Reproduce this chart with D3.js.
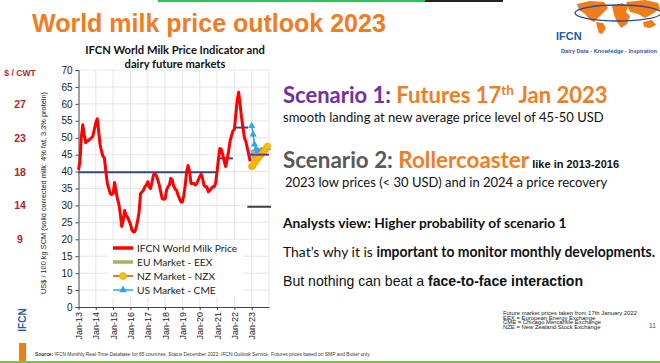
<!DOCTYPE html>
<html>
<head>
<meta charset="utf-8">
<script src="https://cdn.jsdelivr.net/npm/d3@7"></script>
<style>
  body { margin: 0; background: #fff; }
  svg { display: block; }
</style>
</head>
<body>
<svg></svg>
<script>
const width = 660;
const height = 363;

// monthly IFCN world milk price, Jan-13 .. Dec-22 (US$ / 100 kg SCM)
const price2013 = [40.5, 43, 50, 53.8, 51, 48.5, 49, 49.2, 49.6, 50, 50.5, 52.5];
const price2014 = [54.5, 55.6, 52, 48, 46, 44.5, 44, 40, 36.5, 35, 33.5, 33.2];
const price2015 = [33.5, 36.8, 34.5, 32, 30.5, 27.5, 23.8, 25.5, 28.5, 27, 26.5, 25.5];
const price2016 = [24.5, 22.8, 22.2, 22.2, 23.5, 25.5, 28, 33.5, 34, 34.5, 35.5, 36];
const price2017 = [37, 35.5, 35, 37, 39, 39.4, 38.8, 37.5, 36, 34, 32, 31.8];
const price2018 = [32, 34.5, 35.5, 36, 38, 37.5, 35.8, 34.8, 34.5, 33, 32, 31];
const price2019 = [31, 33, 36, 40, 41.8, 40, 36.5, 36.5, 36.5, 36, 36.5, 37.5];
const price2020 = [38.5, 39.2, 38, 36, 35.5, 35.5, 34, 34.5, 35, 35.5, 35.5, 36.5];
const price2021 = [40, 44, 46.8, 46.5, 45, 43, 41.5, 43.5, 46, 49, 50.5, 52];
const price2022 = [52.5, 57, 61, 63.4, 60, 56, 53, 50, 48.8, 47, 45, 43];

// futures for Jan-23 .. Dec-23
const eex = [46.5, 44.5, 43.5, 43.5, 44, 44.5, 45, 45.5, 46, 46.5, 47, 47];
const nzx = [41.5, 41.8, 42.5, 43.2, 43.8, 44.2, 44.8, 45.3, 45.8, 46.3, 46.8, 47.5];
const cme = [53.5, 51, 48, 46.5, 46, 46, 46, 46.1, 46.3, 46.5, 46.8, 47];

// period averages [start, end, value]
const averages = [
  ["2013-01-01", "2021-01-01", 39.8],
  ["2021-01-01", "2021-12-01", 43.9],
  ["2022-01-01", "2022-10-15", 53],
];
const scenario1 = ["2022-10-01", "2024-01-01", 45];
const scenario2 = ["2022-10-01", "2024-02-15", 29.6];

const yTicks = d3.range(0, 71, 5);
const xTickYears = d3.range(2013, 2024);
const cwtLabels = [[60, "27"], [50, "23"], [40, "18"], [30, "14"], [20, "9"]];

const legendItems = [
  { name: "IFCN World Milk Price", color: "#ff0000", w: 3.5, marker: null },
  { name: "EU Market - EEX", color: "#9bbb59", w: 3.5, marker: null },
  { name: "NZ Market - NZX", color: "#c55a11", w: 1.5, marker: "circle" },
  { name: "US Market - CME", color: "#2fa6e6", w: 1.5, marker: "triangle" },
];

const parse = d3.timeParse("%Y-%m-%d");
const start = parse("2013-01-01");
const priceSeries = [].concat(price2013, price2014, price2015, price2016, price2017,
  price2018, price2019, price2020, price2021, price2022)
  .map((v, i) => ({ date: d3.timeMonth.offset(start, i), v: v }));
const fut = arr => arr.map((v, i) => ({ date: d3.timeMonth.offset(parse("2023-01-01"), i), v: v }));

let svg = d3.select("svg")
  .attr("width", width)
  .attr("height", height);

// top progress strip
svg.append("rect").attr("x", 158).attr("y", 0).attr("width", 267).attr("height", 2).attr("fill", "#22c55e");
svg.append("rect").attr("x", 425).attr("y", 0).attr("width", 78).attr("height", 2).attr("fill", "#222");

// title
svg.append("text")
  .attr("x", 32).attr("y", 32)
  .attr("font-family", "Liberation Sans, Arial, sans-serif")
  .attr("font-weight", "bold")
  .attr("font-size", 25)
  .attr("fill", "#f07d22")
  .text("World milk price outlook 2023");

// logo (rough map + ellipse)
const logo = svg.append("g").attr("fill", "#f07d1a");
logo.append("path").attr("d", "M577,4 L590,1 L604,2 L608,8 L603,13 L598,18 L594,22 L590,20 L585,14 L579,10 Z");
logo.append("path").attr("d", "M596,22 L603,23 L606,28 L602,34 L599,33 L597,27 Z");
logo.append("path").attr("d", "M612,6 L622,3 L628,6 L626,12 L630,16 L627,24 L621,28 L617,22 L614,15 Z");
logo.append("path").attr("d", "M626,2 L645,0 L658,3 L660,9 L652,14 L645,18 L638,14 L630,12 Z");
logo.append("path").attr("d", "M643,22 L652,20 L656,25 L650,28 L644,27 Z");
svg.append("ellipse")
  .attr("cx", 618).attr("cy", 13).attr("rx", 43).attr("ry", 8)
  .attr("fill", "none").attr("stroke", "#1f4e9a").attr("stroke-width", 1.3);
svg.append("text")
  .attr("x", 556).attr("y", 40)
  .attr("font-family", "Liberation Sans, Arial, sans-serif")
  .attr("font-weight", "bold").attr("font-size", 11)
  .attr("fill", "#1f5ba8")
  .text("IFCN");
svg.append("text")
  .attr("x", 561).attr("y", 53)
  .attr("font-family", "Liberation Sans, Arial, sans-serif")
  .attr("font-size", 5.6).attr("font-weight", "bold")
  .attr("fill", "#1f5ba8")
  .text("Dairy Data - Knowledge - Inspiration");

// chart
const x = d3.scaleTime().domain([parse("2013-01-01"), parse("2024-01-01")]).range([78.5, 269]);
const y = d3.scaleLinear().domain([0, 70]).range([307, 70]);

svg.append("text")
  .attr("x", 175).attr("y", 54)
  .attr("text-anchor", "middle")
  .attr("font-family", "Lato, sans-serif").attr("font-weight", "bold").attr("font-size", 11.2)
  .attr("fill", "#111")
  .text("IFCN World Milk Price Indicator and");
svg.append("text")
  .attr("x", 175).attr("y", 68)
  .attr("text-anchor", "middle")
  .attr("font-family", "Lato, sans-serif").attr("font-weight", "bold").attr("font-size", 11.2)
  .attr("fill", "#111")
  .text("dairy future markets");

// grid
const grid = svg.append("g").attr("stroke", "#e0e0e0").attr("stroke-width", 0.8);
grid.selectAll("line.h").data(yTicks.slice(1)).join("line")
  .attr("x1", x.range()[0]).attr("x2", x.range()[1])
  .attr("y1", d => y(d)).attr("y2", d => y(d));
grid.selectAll("line.v").data(xTickYears.slice(1).concat([2024])).join("line")
  .attr("x1", d => x(new Date(d, 0, 1))).attr("x2", d => x(new Date(d, 0, 1)))
  .attr("y1", y(0)).attr("y2", y(70));

// axes
const yAxis = svg.append("g")
  .attr("transform", `translate(${x.range()[0]},0)`)
  .call(d3.axisLeft(y).tickValues(yTicks).tickSize(3).tickPadding(3));
yAxis.selectAll("text").attr("font-family", "Liberation Sans, Arial, sans-serif").attr("font-size", 10).attr("fill", "#222");
yAxis.selectAll("line, path").attr("stroke", "#444");

const xAxis = svg.append("g")
  .attr("transform", `translate(0,${y(0)})`)
  .call(d3.axisBottom(x).tickValues(xTickYears.map(d => new Date(d, 0, 1)))
    .tickFormat(d3.timeFormat("Jan-%y")).tickSize(3).tickSizeOuter(0));
xAxis.selectAll("line, path").attr("stroke", "#444");
xAxis.selectAll("text")
  .attr("font-family", "Liberation Sans, Arial, sans-serif").attr("font-size", 9).attr("fill", "#222")
  .attr("text-anchor", "end")
  .attr("transform", "rotate(-90)")
  .attr("x", -5).attr("y", 0).attr("dy", "0.33em");

// y-axis title
svg.append("text")
  .attr("transform", "translate(46,193) rotate(-90)")
  .attr("text-anchor", "middle")
  .attr("font-family", "Liberation Sans, Arial, sans-serif").attr("font-size", 7.4)
  .attr("fill", "#222")
  .text("US$ / 100 kg SCM (solid corrected milk: 4% fat, 3.3% protein)");

// $/CWT
svg.append("text")
  .attr("x", 20).attr("y", 76)
  .attr("text-anchor", "middle")
  .attr("font-family", "Liberation Sans, Arial, sans-serif").attr("font-weight", "bold").attr("font-size", 8.6)
  .attr("fill", "#c0272d")
  .text("$ / CWT");
svg.selectAll("text.cwt").data(cwtLabels).join("text")
  .attr("x", 20).attr("y", d => y(d[0]) + 4)
  .attr("text-anchor", "middle")
  .attr("font-family", "Liberation Sans, Arial, sans-serif").attr("font-weight", "bold").attr("font-size", 10.5)
  .attr("fill", "#b0262b")
  .text(d => d[1]);

// left IFCN brand
svg.append("text")
  .attr("transform", "translate(26,320) rotate(-90)")
  .attr("text-anchor", "middle")
  .attr("font-family", "Liberation Sans, Arial, sans-serif").attr("font-weight", "bold").attr("font-size", 10)
  .attr("fill", "#1f5ba8")
  .text("IFCN");
svg.append("rect").attr("x", 19).attr("y", 343).attr("width", 7).attr("height", 20).attr("fill", "#f07d1a");

// average lines
const avgLines = svg.append("g");
avgLines.selectAll("line").data(averages).join("line")
  .attr("x1", d => x(parse(d[0]))).attr("x2", d => x(parse(d[1])))
  .attr("y1", d => y(d[2])).attr("y2", d => y(d[2]))
  .attr("stroke", "#2f4a8c").attr("stroke-width", 2);

// scenario 2 level
svg.append("line")
  .attr("x1", x(parse(scenario2[0]))).attr("x2", x(parse(scenario2[1])))
  .attr("y1", y(scenario2[2])).attr("y2", y(scenario2[2]))
  .attr("stroke", "#404040").attr("stroke-width", 2);

// price line
const line = d3.line().x(d => x(d.date)).y(d => y(d.v));
svg.append("path")
  .datum(priceSeries)
  .attr("d", line)
  .attr("fill", "none").attr("stroke", "#ff0000").attr("stroke-width", 3)
  .attr("stroke-linejoin", "round");

// futures
svg.append("path").datum(fut(eex)).attr("d", line)
  .attr("fill", "none").attr("stroke", "#9bbb59").attr("stroke-width", 3);

svg.append("path").datum(fut(cme)).attr("d", line)
  .attr("fill", "none").attr("stroke", "#2fa6e6").attr("stroke-width", 1.5);
svg.selectAll("path.tri").data(fut(cme)).join("path")
  .attr("d", d3.symbol().type(d3.symbolTriangle).size(22))
  .attr("transform", d => `translate(${x(d.date)},${y(d.v)})`)
  .attr("fill", "#2fa6e6");

svg.append("path").datum(fut(nzx)).attr("d", line)
  .attr("fill", "none").attr("stroke", "#c55a11").attr("stroke-width", 1.2);
svg.selectAll("circle.nz").data(fut(nzx)).join("circle")
  .attr("cx", d => x(d.date)).attr("cy", d => y(d.v)).attr("r", 3.2)
  .attr("fill", "#ffc000").attr("stroke", "#e49b0f").attr("stroke-width", 0.6);

// scenario 1 level
svg.append("line")
  .attr("x1", x(parse(scenario1[0]))).attr("x2", x(parse(scenario1[1])))
  .attr("y1", y(scenario1[2])).attr("y2", y(scenario1[2]))
  .attr("stroke", "#7030a0").attr("stroke-width", 2);

// legend
const legend = svg.append("g");
legend.append("rect").attr("x", 108).attr("y", 240).attr("width", 135).attr("height", 57).attr("fill", "#fff");
const rows = legend.selectAll("g").data(legendItems).join("g")
  .attr("transform", (d, i) => `translate(113,${248 + i * 14})`);
rows.append("line").attr("x1", 0).attr("x2", 20).attr("y1", 0).attr("y2", 0)
  .attr("stroke", d => d.color).attr("stroke-width", d => d.w);
rows.filter(d => d.marker === "circle").append("circle")
  .attr("cx", 10).attr("cy", 0).attr("r", 3.5)
  .attr("fill", "#ffc000").attr("stroke", "#e49b0f").attr("stroke-width", 0.6);
rows.filter(d => d.marker === "triangle").append("path")
  .attr("d", d3.symbol().type(d3.symbolTriangle).size(26))
  .attr("transform", "translate(10,0)")
  .attr("fill", "#2fa6e6");
rows.append("text")
  .attr("x", 24).attr("y", 0).attr("dy", "0.35em")
  .attr("font-family", "Lato, sans-serif").attr("font-size", 10.2)
  .attr("fill", "#222")
  .text(d => d.name);

// right hand text
const s1 = svg.append("text")
  .attr("x", 283).attr("y", 103)
  .attr("font-family", "Lato, sans-serif").attr("font-weight", "bold").attr("font-size", 22);
s1.append("tspan").attr("fill", "#7030a0").text("Scenario 1: ");
s1.append("tspan").attr("fill", "#f07d22").text("Futures 17");
s1.append("tspan").attr("fill", "#f07d22").attr("font-size", 13.5).attr("dy", -8).text("th");
s1.append("tspan").attr("fill", "#f07d22").attr("dy", 8).text(" Jan 2023");

svg.append("text")
  .attr("x", 283).attr("y", 122)
  .attr("font-family", "Lato, sans-serif").attr("font-size", 13)
  .attr("fill", "#111")
  .text("smooth landing at new average price level of 45-50 USD");

const s2 = svg.append("text")
  .attr("x", 283).attr("y", 168)
  .attr("font-family", "Lato, sans-serif").attr("font-weight", "bold").attr("font-size", 22.4);
s2.append("tspan").attr("fill", "#595959").text("Scenario 2: ");
s2.append("tspan").attr("fill", "#f07d22").text("Rollercoaster");
s2.append("tspan").attr("fill", "#111").attr("font-family", "Liberation Sans, Arial, sans-serif")
  .attr("font-size", 11).text("  like in 2013-2016");

svg.append("text")
  .attr("x", 285).attr("y", 187)
  .attr("font-family", "Lato, sans-serif").attr("font-size", 13)
  .attr("fill", "#111")
  .text("2023 low prices (< 30 USD) and in 2024 a price recovery");

svg.append("text")
  .attr("x", 283).attr("y", 228)
  .attr("font-family", "Lato, sans-serif").attr("font-weight", "bold").attr("font-size", 13.8)
  .attr("fill", "#111")
  .text("Analysts view: Higher probability of scenario 1");

const t2 = svg.append("text")
  .attr("x", 283).attr("y", 257)
  .attr("font-family", "Lato, sans-serif").attr("font-size", 14.2)
  .attr("textLength", 372).attr("lengthAdjust", "spacingAndGlyphs")
  .attr("fill", "#111");
t2.append("tspan").text("That\u2019s why it is ");
t2.append("tspan").attr("font-weight", "bold").text("important to monitor monthly developments.");

const t3 = svg.append("text")
  .attr("x", 283).attr("y", 286)
  .attr("font-family", "Liberation Sans, Arial, sans-serif").attr("font-size", 14.1)
  .attr("fill", "#111");
t3.append("tspan").text("But nothing can beat a ");
t3.append("tspan").attr("font-weight", "bold").text("face-to-face interaction");

// footnotes
const notes = ["Future market prices taken from 17th January 2022", "EEX = European Energy Exchange",
  "CME = Chicago Mercantile Exchange", "NZE = New Zealand Stock Exchange"];
svg.selectAll("text.note").data(notes).join("text")
  .attr("x", 503).attr("y", (d, i) => 315 + i * 4.5)
  .attr("font-family", "Liberation Sans Narrow, Liberation Sans, sans-serif").attr("font-size", 5.9)
  .attr("fill", "#222")
  .text(d => d);
svg.append("text")
  .attr("x", 649).attr("y", 328)
  .attr("font-family", "Liberation Sans, Arial, sans-serif").attr("font-size", 6.5)
  .attr("fill", "#1f4e79")
  .text("11");

const src = svg.append("text")
  .attr("x", 35).attr("y", 356)
  .attr("font-family", "Liberation Sans Narrow, Liberation Sans, sans-serif").attr("font-size", 4.9)
  .attr("fill", "#333");
src.append("tspan").attr("font-weight", "bold").text("Source: ");
src.append("tspan").text("IFCN Monthly Real-Time Database for 65 countries, Status December 2022; IFCN Outlook Service, Futures prices based on SMP and Butter only");

// bottom rule
svg.append("rect").attr("x", 0).attr("y", 361).attr("width", width).attr("height", 2).attr("fill", "#7dc242");
</script>
</body>
</html>
